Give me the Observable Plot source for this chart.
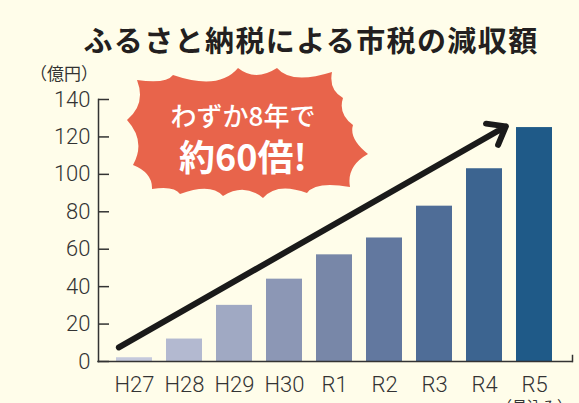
<!DOCTYPE html>
<html><head><meta charset="utf-8">
<script src="https://cdn.jsdelivr.net/npm/d3@7"></script>
<script src="https://cdn.jsdelivr.net/npm/@observablehq/plot@0.6"></script>
<style>
html,body{margin:0;padding:0;background:#fffdea;overflow:hidden;}
#wrap{position:relative;width:579px;height:403px;background:#fffdea;overflow:hidden;font-family:"Noto Sans CJK JP",sans-serif;}
#chart{position:absolute;left:0;top:0;}
#title{position:absolute;left:0;width:622px;top:24px;text-align:center;font-size:29px;line-height:30px;font-weight:700;letter-spacing:1.4px;color:#231f20;}
#unit{position:absolute;left:30px;top:62px;font-size:17px;line-height:22px;color:#333;}
#note{position:absolute;left:497px;top:397px;font-size:15px;line-height:18px;color:#333;}
#burst{position:absolute;left:0;top:0;pointer-events:none;}
.b1{position:absolute;left:143px;width:200px;top:100px;text-align:center;font-size:26px;line-height:30px;color:#fff;font-weight:500;}
.b2{position:absolute;left:143px;width:200px;top:135px;text-align:center;font-size:36px;line-height:40px;color:#fff;font-weight:700;}
</style></head><body><div id="wrap">
<div id="chart"></div>
<svg id="burst" width="579" height="403"></svg>
<div id="title">ふるさと納税による市税の減収額</div>
<div id="unit">（億円）</div>
<div class="b1">わずか8年で</div>
<div class="b2">約60倍!</div>
<div id="note">（見込み）</div>
</div>
<script>
const years = ["H27","H28","H29","H30","R1","R2","R3","R4","R5"];
const values = [2,12,30,44,57,66,83,103,125];
const yTicks = [0,20,40,60,80,100,120,140];
const barColors = ["#c5c9dc","#b3b9d0","#a0a9c3","#8c97b5","#7887a8","#62789f","#4f6d97","#3c6490","#1f5a88"];
const arrowFrom = {year:"H27", value:12.3};
const arrowTo = {year:"R5", value:134.4};

const data = years.map((y,i)=>({year:y, value:values[i]}));
const axisFont = "'Liberation Sans Narrow', 'Roboto', sans-serif";
const chart = Plot.plot({
  width:579, height:403,
  marginTop:99, marginBottom:42, marginLeft:109, marginRight:19,
  style:{background:"transparent", fontFamily:axisFont, fontSize:"22px", color:"#333", overflow:"visible"},
  x:{domain:years, paddingInner:0.28, paddingOuter:0.14, label:null},
  y:{domain:[0,140], label:null},
  color:{domain:years, range:barColors},
  marks:[
    Plot.barY(data, {x:"year", y:"value", fill:"year"}),
    Plot.axisY({ticks:yTicks, tickSize:11, tickPadding:8, label:null, stroke:"#333", strokeWidth:1.5, fill:"#333", fontWeight:300}),
    Plot.axisX({tickSize:0, tickPadding:15, label:null, fill:"#333", fontWeight:300}),
    Plot.frame({anchor:"left", dx:-11, stroke:"#333", strokeWidth:1.5}),
    Plot.ruleY([0], {insetLeft:-11.75, insetRight:-12.75, stroke:"#333", strokeWidth:1.5}),
    Plot.frame({anchor:"right", dx:12, insetTop:256, stroke:"#333", strokeWidth:1.5}),
    Plot.arrow([{from:arrowFrom, to:arrowTo}], {
      x1:d=>d.from.year, y1:d=>d.from.value, x2:d=>d.to.year, y2:d=>d.to.value,
      stroke:"#1a1a1a", strokeWidth:6, headLength:5, headAngle:75,
      insetStart:-18, insetEnd:33, strokeLinecap:"round", strokeLinejoin:"round"
    })
  ]
});
document.getElementById("chart").append(chart);

// decorative burst shape behind the callout text
const tips = [[137,80],[173,75],[238,68],[277,68],[332,72],[343,98],[353,125],[368,154],[350,187],[307,193],[263,198],[223,196],[180,194],[152,189],[133,165],[127,120]];
const cx = 248, cy = 133;
let dpath = `M${tips[0][0]},${tips[0][1]}`;
for (let i=0;i<tips.length;i++){
  const a = tips[i], b = tips[(i+1)%tips.length];
  const mx=(a[0]+b[0])/2, my=(a[1]+b[1])/2;
  const len=Math.hypot(b[0]-a[0], b[1]-a[1]);
  const vx=cx-mx, vy=cy-my, vl=Math.hypot(vx,vy);
  const k=0.36*len;
  dpath += ` Q${mx+vx/vl*k},${my+vy/vl*k} ${b[0]},${b[1]}`;
}
d3.select("#burst").append("path").attr("d", dpath+"Z").attr("fill","#e8644b");
</script>
</body></html>
